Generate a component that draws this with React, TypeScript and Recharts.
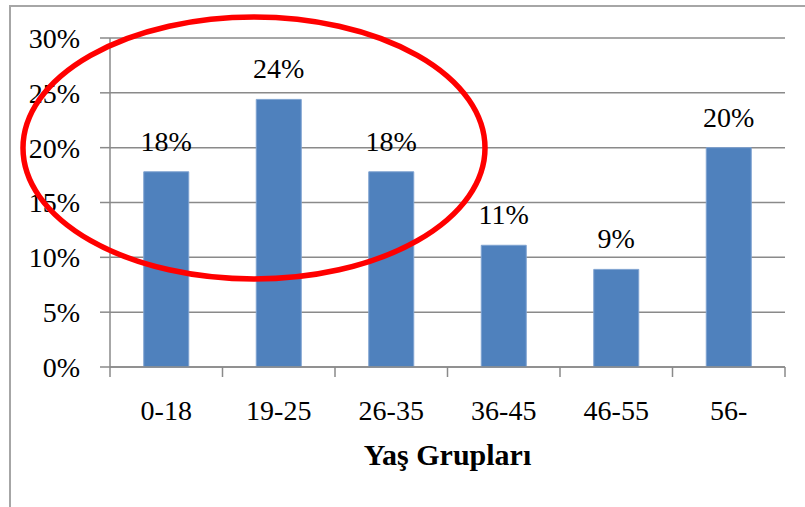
import { BarChart, Bar, XAxis, YAxis, CartesianGrid, LabelList } from 'recharts';

// age groups and share of respondents (%)
const groups = ['0-18', '19-25', '26-35', '36-45', '46-55', '56-'];
const shares = [17.8, 24.4, 17.8, 11.1, 8.9, 20.0];
const yTicks = [0, 5, 10, 15, 20, 25, 30];

const data = groups.map((group, i) => ({ group, share: shares[i] }));

const FONT = 'Liberation Serif, serif';
const GRAY = '#8a8a8a';

const GroupTick = (props: any) => {
  const { x, y, payload, index, visibleTicksCount } = props;
  const half = payload.offset ?? 56.25;
  const top = y - 33;
  return (
    <g>
      <line x1={x - half} x2={x - half} y1={top} y2={top + 10} stroke={GRAY} strokeWidth={1.5} />
      {index === visibleTicksCount - 1 && (
        <line x1={x + half} x2={x + half} y1={top} y2={top + 10} stroke={GRAY} strokeWidth={1.5} />
      )}
      <text x={x} y={y} dy="0.71em" textAnchor="middle" fill="#000" style={{ fontSize: 28, fontFamily: FONT }}>
        {payload.value}
      </text>
    </g>
  );
};

export default function App() {
  return (
    <div
      style={{
        position: 'relative',
        width: 805,
        height: 507,
        background: '#fff',
        overflow: 'hidden',
        fontFamily: FONT,
      }}
    >
      <style>{'body{margin:0} .recharts-wrapper text{font-family:"Liberation Serif",serif}'}</style>
      <div
        style={{
          position: 'absolute',
          left: 9,
          top: 5,
          width: 820,
          height: 520,
          borderLeft: '2px solid #a6a6a6',
          borderTop: '2px solid #a6a6a6',
        }}
      />
      <BarChart
        width={805}
        height={507}
        data={data}
        margin={{ top: 38, right: 20, left: 10, bottom: 40 }}
        barCategoryGap="30%"
        style={{ position: 'absolute', left: 0, top: 0 }}
      >
        <CartesianGrid vertical={false} stroke={GRAY} strokeWidth={1.5} />
        <XAxis
          dataKey="group"
          height={100}
          tickSize={10}
          tickMargin={23}
          tickLine={false}
          axisLine={{ stroke: GRAY, strokeWidth: 1.5 }}
          tick={<GroupTick />}
          interval={0}
          label={{
            value: 'Yaş Grupları',
            position: 'insideBottom',
            offset: 2,
            fill: '#000',
            fontSize: 30,
            fontWeight: 'bold',
          }}
        />
        <YAxis
          width={100}
          domain={[0, 30]}
          ticks={yTicks}
          interval={0}
          tickSize={10}
          tickMargin={20}
          tickFormatter={(v: number) => `${v}%`}
          tick={{ fill: '#000', fontSize: 28 }}
          tickLine={{ stroke: GRAY, strokeWidth: 1.5 }}
          axisLine={{ stroke: GRAY, strokeWidth: 1.5 }}
        />
        <Bar dataKey="share" fill="#4f81bd" stroke="#7fa3d1" strokeWidth={1} isAnimationActive={false}>
          <LabelList
            dataKey="share"
            position="top"
            offset={21}
            formatter={(v: any) => `${Math.round(Number(v))}%`}
            style={{ fill: '#000', fontSize: 28 }}
          />
        </Bar>
      </BarChart>
      <svg
        width={805}
        height={507}
        style={{ position: 'absolute', left: 0, top: 0, pointerEvents: 'none' }}
      >
        <ellipse cx={254} cy={148} rx={231} ry={131} fill="none" stroke="#ff0000" strokeWidth={5.5} />
      </svg>
    </div>
  );
}
